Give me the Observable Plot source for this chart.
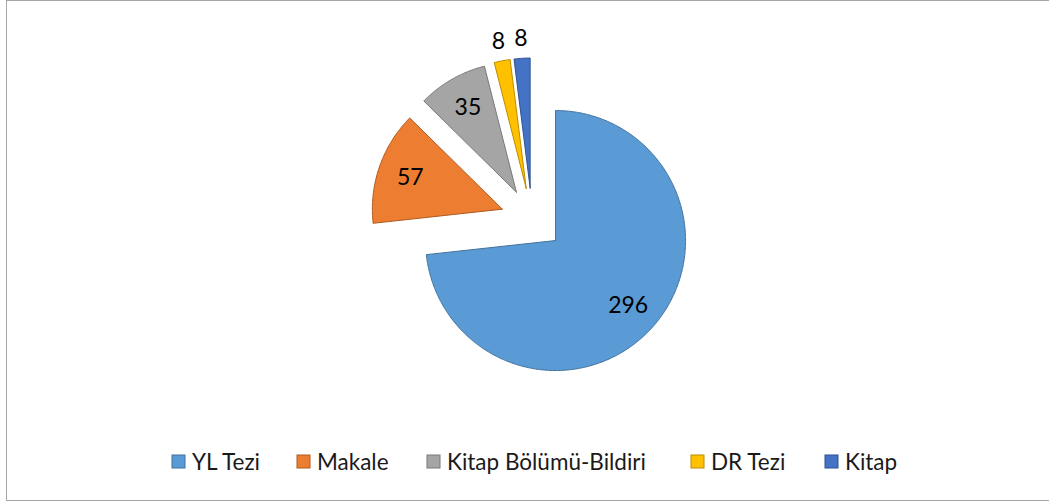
<!DOCTYPE html>
<html>
<head>
<meta charset="utf-8">
<script src="https://cdn.jsdelivr.net/npm/d3@7"></script>
<script src="https://cdn.jsdelivr.net/npm/@observablehq/plot@0.6"></script>
<style>
  html, body { margin: 0; padding: 0; background: #fff; overflow: hidden; }
  #frame { position: absolute; left: 6px; top: 0px; width: 1050px; height: 499px; border: 1px solid #a6a6a6; box-sizing: content-box; }
  #chart { position: absolute; left: 0; top: 0; }
  #legend { position: absolute; left: 172px; top: 445px; font-family: Lato, "Open Sans", sans-serif; }
</style>
</head>
<body>
<div id="frame"></div>
<div id="chart"></div>
<div id="legend"></div>
<script>
// ---- data ----
const categories = ["YL Tezi", "Makale", "Kitap Bölümü-Bildiri", "DR Tezi", "Kitap"];
const values = [296, 57, 35, 8, 8];
const fillColors = ["#5B9BD5", "#ED7D31", "#A5A5A5", "#FFC000", "#4472C4"];
const strokeColors = ["#41719C", "#AE5A21", "#787878", "#BC8C00", "#2F528F"];

// ---- layout ----
const W = 1049, H = 502;
const cx = 531.6, cy = 219, R = 130, explode = 31.5;
const legendItemWidths = [125, 130, 264, 134, 90];

const pie = d3.pie().sort(null).value(d => d.value).startAngle(0).endAngle(2 * Math.PI);
const rows = categories.map((c, i) => ({cat: c, value: values[i], fill: fillColors[i], stroke: strokeColors[i]}));
const arcs = pie(rows);

const polyPoints = [];
const labels = [];
arcs.forEach(a => {
  const mid = (a.startAngle + a.endAngle) / 2;
  const ax = cx + explode * Math.sin(mid);
  const ay = cy - explode * Math.cos(mid);
  const apex = {cat: a.data.cat, fill: a.data.fill, stroke: a.data.stroke, x: ax, y: ay};
  polyPoints.push(apex);
  const n = Math.max(2, Math.ceil((a.endAngle - a.startAngle) / 0.01));
  for (let k = 0; k <= n; k++) {
    const t = a.startAngle + (a.endAngle - a.startAngle) * k / n;
    polyPoints.push({cat: a.data.cat, fill: a.data.fill, stroke: a.data.stroke,
      x: ax + R * Math.sin(t), y: ay - R * Math.cos(t)});
  }
  polyPoints.push({...apex});
  const frac = (a.endAngle - a.startAngle) / (2 * Math.PI);
  const lr = frac > 0.05 ? 0.75 * R : R + 20;
  labels.push({x: ax + lr * Math.sin(mid), y: ay - lr * Math.cos(mid), text: String(a.data.value)});
});

const chart = Plot.plot({
  width: W, height: H,
  margin: 0,
  x: {domain: [0, W], range: [0, W], axis: null},
  y: {domain: [0, H], range: [0, H], axis: null},
  color: {type: "identity"},
  style: {background: "transparent", overflow: "visible"},
  marks: [
    Plot.line(polyPoints, {x: "x", y: "y", z: "cat", fill: "fill", stroke: "stroke", strokeWidth: 1, curve: "linear", strokeLinejoin: "miter"}),
    Plot.text(labels, {x: "x", y: "y", text: "text", fontSize: 23, fill: "#000", fontFamily: "Lato, 'Open Sans', sans-serif"})
  ]
});
document.getElementById("chart").appendChild(chart);

const legend = Plot.legend({
  color: {type: "ordinal", domain: categories, range: fillColors},
  legend: "swatches",
  swatchSize: 13
});
legend.style.setProperty("font-size", "22.5px", "important");
legend.style.fontFamily = "Lato, 'Open Sans', sans-serif";
legend.style.color = "#1a1a1a";
legend.style.margin = "0";
legend.style.display = "flex";
legend.style.flexWrap = "nowrap";
legend.style.whiteSpace = "nowrap";
const items = legend.querySelectorAll("span");
items.forEach((s, i) => {
  s.style.setProperty("font-size", "22.5px", "important");
  s.style.setProperty("margin-right", "0px", "important");
  s.style.width = legendItemWidths[i] + "px";
  s.style.flexShrink = "0";
  const svg = s.querySelector("svg");
  if (svg) {
    svg.style.setProperty("margin-right", "7px", "important");
    svg.querySelectorAll("rect").forEach(r => { r.setAttribute("stroke", strokeColors[i]); r.setAttribute("stroke-width", "1"); });
  }
});
document.getElementById("legend").appendChild(legend);
</script>
</body>
</html>
